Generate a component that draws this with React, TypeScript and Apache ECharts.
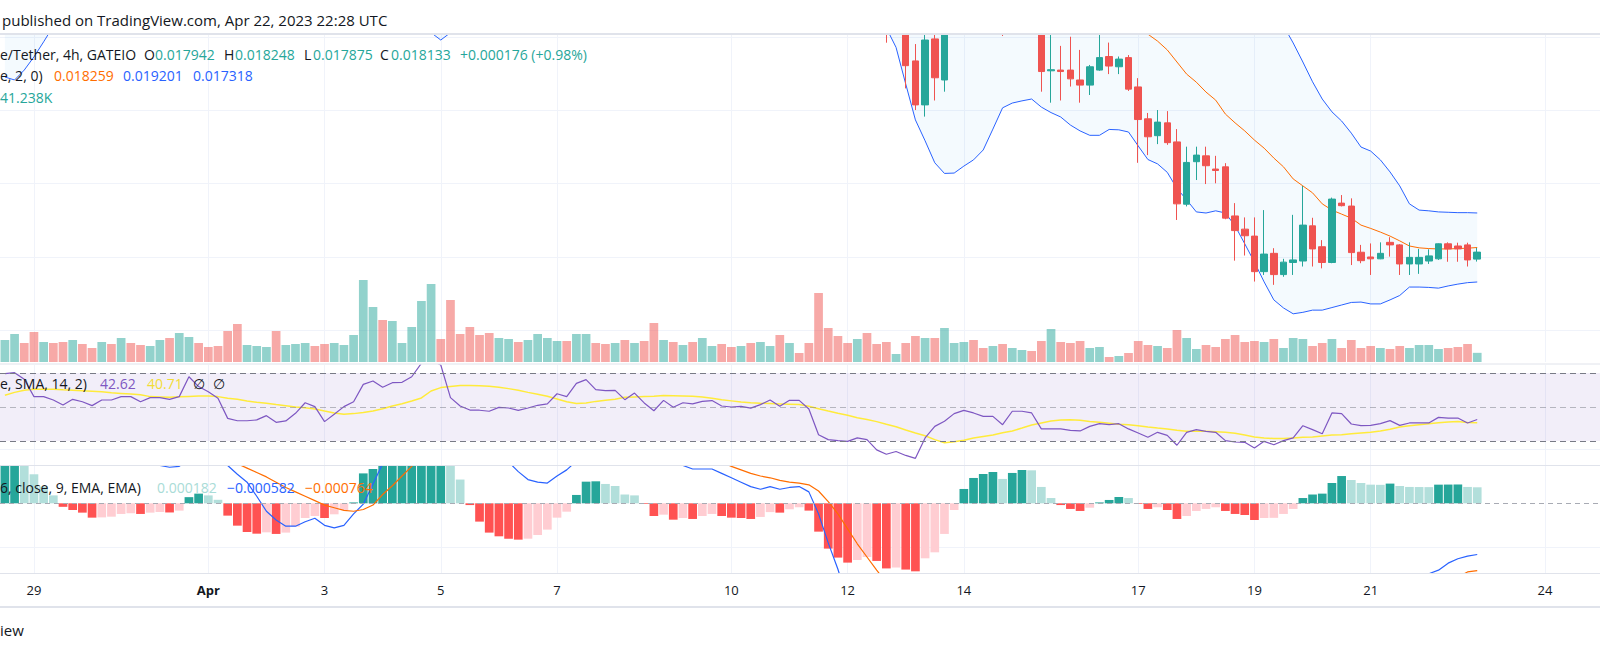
import React, { useEffect, useRef } from "react";
import * as echarts from "echarts";

// ---- time axis (hours from Apr 1 00:00 UTC), 4h bars ----
const FIRST_BAR_HOUR = -84;
const BAR_HOURS = 4;
const X_MIN = -86.02;
const X_MAX = 574.7;

const tickHours = [-72, 0, 48, 96, 144, 216, 264, 312, 384, 432, 480, 552];
const tickLabels = ["29", "Apr", "3", "5", "7", "10", "12", "14", "17", "19", "21", "24"];
const priceGridValues = [0.016, 0.018, 0.02, 0.022, 0.024];
const rsiGridValues = [25];
const macdGridValues = [-0.0005];

// ---- candles: [barIndex, open, high, low, close] (bars above the visible price range omitted) ----
const ohlc: number[][] = [
  [91, 0.0252, 0.0254, 0.023847, 0.0244],
  [93, 0.0246, 0.025, 0.0226, 0.02322],
  [94, 0.02335, 0.02381, 0.02201, 0.02215],
  [95, 0.02215, 0.0242, 0.02183, 0.02392],
  [96, 0.02395, 0.0242, 0.02227, 0.02289],
  [97, 0.02283, 0.0247, 0.02251, 0.02435],
  [103, 0.0248, 0.0252, 0.02403, 0.0245],
  [107, 0.0245, 0.025, 0.02251, 0.02306],
  [108, 0.02308, 0.0243, 0.02221, 0.02311],
  [109, 0.0231, 0.02376, 0.02227, 0.02306],
  [110, 0.0231, 0.02401, 0.02265, 0.02286],
  [111, 0.02283, 0.02365, 0.02221, 0.02269],
  [112, 0.02269, 0.02324, 0.02242, 0.02319],
  [113, 0.0231, 0.02415, 0.02308, 0.02344],
  [114, 0.02347, 0.02385, 0.02299, 0.02321],
  [115, 0.02319, 0.02347, 0.02299, 0.0234],
  [116, 0.02344, 0.02351, 0.02253, 0.02258],
  [117, 0.02264, 0.02288, 0.02057, 0.02175],
  [118, 0.02177, 0.02193, 0.02078, 0.02128],
  [119, 0.02131, 0.02201, 0.02108, 0.02168],
  [120, 0.02166, 0.02198, 0.02106, 0.02112],
  [121, 0.02114, 0.02149, 0.01901, 0.01945],
  [122, 0.01944, 0.02101, 0.01938, 0.02058],
  [123, 0.0206, 0.02101, 0.0201, 0.02078],
  [124, 0.02076, 0.02101, 0.01999, 0.02049],
  [125, 0.0204, 0.02076, 0.02001, 0.02036],
  [126, 0.02046, 0.02056, 0.01903, 0.01906],
  [127, 0.01912, 0.01947, 0.0179, 0.01872],
  [128, 0.01876, 0.01908, 0.01804, 0.01858],
  [129, 0.01857, 0.01908, 0.01733, 0.0176],
  [130, 0.0176, 0.01928, 0.01751, 0.01808],
  [131, 0.0181, 0.01824, 0.01724, 0.01752],
  [132, 0.01752, 0.01795, 0.01746, 0.01786],
  [133, 0.01785, 0.01915, 0.01751, 0.01792],
  [134, 0.01789, 0.01994, 0.01774, 0.01887],
  [135, 0.01885, 0.01907, 0.01774, 0.01822],
  [136, 0.01828, 0.01846, 0.01769, 0.01785],
  [137, 0.01785, 0.01962, 0.01783, 0.01958],
  [138, 0.01947, 0.01969, 0.01938, 0.0194],
  [139, 0.01939, 0.0196, 0.01778, 0.01812],
  [140, 0.01813, 0.01833, 0.01783, 0.0179],
  [141, 0.018, 0.01837, 0.01751, 0.01795],
  [142, 0.01795, 0.0184, 0.01794, 0.0181],
  [143, 0.0184, 0.01854, 0.01801, 0.01833],
  [144, 0.01833, 0.01835, 0.01751, 0.01781],
  [145, 0.01781, 0.0184, 0.01751, 0.01799],
  [146, 0.01781, 0.01822, 0.01754, 0.01799],
  [147, 0.01789, 0.01821, 0.01781, 0.01803],
  [148, 0.01795, 0.01837, 0.01792, 0.01836],
  [149, 0.01836, 0.0184, 0.01787, 0.01822],
  [150, 0.0183, 0.01839, 0.01787, 0.01822],
  [151, 0.01833, 0.01839, 0.01774, 0.01792],
  [152, 0.017942, 0.018248, 0.017875, 0.018133],
];

// ---- Bollinger Bands, in segments starting at a bar index ----
const bbSegA = 0;
const bbUpperA = [0.0275, 0.0276, 0.0277, 0.0278, 0.0279, 0.028, 0.0281];
const bbLowerA = [0.02291, 0.02283, 0.0231, 0.02346, 0.02387, 0.0243, 0.0246];
const bbSegB = 43;
const bbUpperB = [0.0282, 0.0284, 0.0286, 0.0288, 0.029];
const bbLowerB = [0.0243, 0.02412, 0.02392, 0.02412, 0.0244];
const bbSegC = 90;
const bbUpperC = [
  0.0282, 0.0283, 0.0284, 0.0285, 0.0286, 0.0287, 0.0288, 0.0288, 0.0289, 0.0289,
  0.0289, 0.0288, 0.0287, 0.0285, 0.0284, 0.0283, 0.0282, 0.0281, 0.028, 0.028,
  0.0279, 0.0279, 0.0278, 0.0278, 0.0278, 0.0278, 0.02779, 0.02757, 0.0275, 0.02724,
  0.02699, 0.02677, 0.02642, 0.02631, 0.0258, 0.0253, 0.0246, 0.02447, 0.02452, 0.02452,
  0.02462, 0.02457, 0.02431, 0.02384, 0.02332, 0.02278, 0.02231, 0.02196, 0.02171, 0.02138,
  0.021, 0.02089, 0.02065, 0.02032, 0.01994, 0.01945, 0.01928, 0.01926, 0.01923, 0.01922,
  0.01921, 0.01921, 0.019201,
];
const bbLowerC = [
  0.0248, 0.02425, 0.02372, 0.02272, 0.02174, 0.02117, 0.02057, 0.02028, 0.02029, 0.02048,
  0.02065, 0.02092, 0.02149, 0.02207, 0.0222, 0.02226, 0.02231, 0.02209, 0.02194, 0.02182,
  0.0216, 0.02144, 0.02132, 0.02132, 0.02148, 0.02147, 0.02141, 0.02103, 0.02066, 0.02054,
  0.02031, 0.01987, 0.01956, 0.01923, 0.0192, 0.01926, 0.0192, 0.01885, 0.01836, 0.01786,
  0.01732, 0.01683, 0.01661, 0.01645, 0.01649, 0.01655, 0.01655, 0.01662, 0.01669, 0.01676,
  0.01677, 0.01672, 0.01672, 0.01683, 0.01695, 0.01718, 0.01718, 0.01717, 0.01715, 0.01721,
  0.01726, 0.0173, 0.017318,
];
const bbBasisStart = 116;
const bbBasis = [
  0.0246, 0.0243, 0.02408, 0.02389, 0.02365, 0.02332, 0.02299, 0.02277, 0.0225, 0.02228,
  0.0219, 0.02166, 0.02144, 0.02119, 0.02097, 0.0207, 0.02046, 0.02013, 0.01994, 0.01975,
  0.01945, 0.01928, 0.01917, 0.01906, 0.01887, 0.01878, 0.01868, 0.01857, 0.01844, 0.0183,
  0.01825, 0.01823, 0.01822, 0.01822, 0.01823, 0.01824, 0.018259,
];

// ---- volume (K) and direction (1 = up bar) ----
const volumeK = [
  99, 126, 85.5, 135, 90, 85.5, 90, 99, 81, 63,
  90, 81, 108, 85.5, 76.5, 72, 99, 108, 130.5, 112.5,
  85.5, 67.5, 72, 139.5, 171, 76.5, 72, 67.5, 139.5, 76.5,
  81, 85.5, 72, 81, 85.5, 76.5, 121.5, 369, 247.5, 189,
  184.5, 85.5, 157.5, 274.5, 351, 103.5, 279, 126, 157.5, 121.5,
  130.5, 108, 103.5, 90, 99, 126, 108, 94.5, 94.5, 126,
  126, 85.5, 81, 85.5, 99, 85.5, 94.5, 175.5, 99, 90,
  76.5, 90, 108, 72, 81, 67.5, 72, 85.5, 90, 72,
  121.5, 85.5, 40.5, 85.5, 310.5, 153, 117, 85.5, 103.5, 130.5,
  81, 90, 36, 85.5, 117, 108, 108, 153, 85.5, 90,
  99, 63, 72, 81, 63, 54, 49.5, 94.5, 148.5, 90,
  85.5, 94.5, 63, 67.5, 22.5, 27, 40.5, 94.5, 76.5, 72,
  63, 144, 108, 58.5, 76.5, 67.5, 103.5, 121.5, 90, 94.5,
  90, 103.5, 63, 108, 103.5, 72, 85.5, 103.5, 63, 99,
  63, 72, 63, 58.5, 72, 63, 76.5, 76.5, 58.5, 63,
  67.5, 81, 41.238,
];
const volumeUp = [
  1, 1, 0, 0, 1, 0, 0, 1, 0, 0,
  1, 0, 1, 0, 0, 1, 1, 0, 1, 1,
  0, 0, 0, 0, 0, 1, 1, 1, 0, 1,
  1, 1, 0, 0, 1, 1, 1, 1, 1, 0,
  1, 1, 1, 1, 1, 0, 0, 0, 0, 0,
  0, 1, 1, 0, 1, 1, 1, 1, 0, 1,
  1, 0, 0, 1, 0, 1, 0, 0, 1, 0,
  1, 0, 1, 1, 0, 0, 1, 0, 1, 1,
  0, 1, 0, 0, 0, 0, 0, 0, 1, 0,
  0, 0, 1, 0, 0, 1, 0, 1, 1, 1,
  0, 0, 1, 0, 1, 1, 0, 0, 1, 0,
  0, 0, 1, 1, 0, 1, 0, 0, 0, 1,
  0, 0, 1, 1, 0, 0, 0, 0, 0, 0,
  1, 0, 1, 1, 1, 0, 0, 1, 0, 0,
  0, 0, 1, 0, 0, 1, 1, 1, 1, 0,
  0, 0, 1,
];

// ---- RSI (14) and its SMA ----
const rsi = [
  69.6, 70.2, 66.3, 56.1, 56.1, 54.1, 51.2, 54.5, 53.1, 50.8,
  54.1, 54.1, 56.1, 56.1, 53.1, 55.5, 55.5, 54.5, 56.1, 67.8,
  62.0, 59.0, 55.1, 43.3, 41.9, 41.9, 42.4, 44.9, 41.0, 41.8,
  46.3, 52.5, 50.2, 41.4, 45.7, 50.2, 53.1, 63.3, 65.3, 61.6,
  64.3, 64.5, 67.8, 75.7, 77.6, 74.7, 55.5, 50.6, 48.2, 48.1,
  47.5, 49.8, 49.4, 48.0, 49.4, 51.0, 51.8, 57.8, 56.1, 63.9,
  66.1, 60.2, 59.6, 59.8, 54.3, 58.2, 52.4, 47.8, 53.9, 49.8,
  52.5, 51.8, 53.3, 53.8, 50.6, 50.0, 50.4, 49.3, 51.4, 54.1,
  50.4, 53.9, 53.9, 48.8, 33.7, 30.8, 30.2, 29.8, 31.8, 30.8,
  24.8, 22.2, 23.8, 21.5, 19.8, 31.8, 38.6, 41.6, 46.1, 48.0,
  46.5, 44.5, 44.5, 39.6, 47.5, 47.5, 46.5, 37.1, 37.1, 37.1,
  36.3, 35.9, 38.6, 40.2, 39.6, 40.2, 37.1, 34.7, 32.2, 35.1,
  33.3, 27.5, 35.1, 36.7, 35.7, 35.1, 30.2, 29.4, 29.2, 25.9,
  29.8, 27.8, 30.2, 31.8, 39.0, 36.7, 34.3, 46.5, 46.1, 40.0,
  39.0, 39.2, 40.2, 42.0, 39.2, 40.6, 40.6, 40.6, 43.9, 43.5,
  43.5, 40.6, 42.62,
];
const rsiSma = [
  56.9, 58.6, 59.8, 60.4, 60.4, 60.4, 60.1, 59.9, 59.6, 59.3,
  59.0, 58.4, 58.0, 57.6, 57.2, 56.1, 55.9, 55.7, 56.0, 56.2,
  56.4, 56.5, 56.1, 55.1, 54.5, 53.5, 52.8, 52.2, 51.4, 50.8,
  50.0, 49.6, 48.8, 47.6, 46.5, 45.7, 46.1, 46.7, 47.6, 49.0,
  50.6, 51.9, 53.5, 55.3, 59.4, 61.4, 62.0, 62.6, 62.6, 62.5,
  62.2, 61.6, 60.8, 59.8, 58.6, 57.5, 56.3, 54.7, 53.1, 52.0,
  52.4, 53.3, 53.9, 54.5, 55.7, 55.9, 56.1, 56.3, 56.7, 56.6,
  56.5, 56.3, 55.9, 55.1, 54.3, 53.6, 52.9, 52.5, 52.2, 52.0,
  51.8, 51.6, 51.4, 50.4, 49.0, 47.6, 46.3, 45.1, 43.7, 42.7,
  41.4, 39.8, 38.4, 36.5, 34.7, 33.1, 30.8, 29.0, 29.6, 30.4,
  31.8, 32.7, 33.5, 34.9, 35.9, 37.6, 39.4, 40.6, 41.8, 42.4,
  42.5, 42.2, 41.4, 41.0, 40.4, 39.8, 39.6, 39.0, 38.2, 37.6,
  37.1, 36.3, 35.7, 35.7, 35.7, 35.5, 35.1, 34.5, 33.5, 32.4,
  31.8, 31.4, 31.4, 31.8, 32.2, 32.4, 33.0, 33.5, 33.7, 34.3,
  34.7, 35.1, 35.9, 36.9, 38.2, 39.0, 39.6, 40.2, 40.8, 41.2,
  41.5, 40.9, 40.71,
];

// ---- MACD (12, 26, close, 9) ----
const macdHist = [
  0.00048, 0.0005, 0.00045, 0.00033, 0.00019, 0.00009, -0.00004, -0.000076, -0.000106, -0.000163,
  -0.00016, -0.000152, -0.000121, -0.000114, -0.000121, -0.000106, -0.000099, -0.000104, -0.000083, 0.00007,
  0.00011, 0.00009, 0.00004, -0.00014, -0.000254, -0.000326, -0.000345, -0.00033, -0.000348, -0.000333,
  -0.000265, -0.000167, -0.000144, -0.000167, -0.000125, -0.000076, 0.00001, 0.00034, 0.00039, 0.00046,
  0.00052, 0.00058, 0.00062, 0.00066, 0.00069, 0.00071, 0.00055, 0.00027, -0.00002, -0.000208,
  -0.000333, -0.000375, -0.000402, -0.000413, -0.000402, -0.00036, -0.000299, -0.000163, -0.000095, 0.000095,
  0.000246, 0.00025, 0.00022, 0.000197, 0.0001, 0.00009, -0.000008, -0.000144, -0.000129, -0.000186,
  -0.000167, -0.000178, -0.000144, -0.000121, -0.000144, -0.000163, -0.000167, -0.000178, -0.000155, -0.0001,
  -0.000106, -0.000068, -0.000045, -0.000083, -0.000322, -0.000515, -0.000617, -0.000674, -0.000644, -0.00061,
  -0.000655, -0.00074, -0.00073, -0.000753, -0.000773, -0.000625, -0.000557, -0.000348, -0.000076, 0.000163,
  0.000288, 0.000333, 0.000356, 0.000277, 0.000345, 0.000379, 0.000375, 0.000186, 0.00006, -0.00002,
  -0.000064, -0.000087, -0.00005, 0.00001, 0.000038, 0.000072, 0.00006, -0.000008, -0.000064, -0.000045,
  -0.000076, -0.000178, -0.000144, -0.000087, -0.000064, -0.000045, -0.000087, -0.000121, -0.000133, -0.00019,
  -0.000167, -0.000165, -0.000121, -0.000064, 0.00006, 0.0001, 0.00011, 0.000231, 0.00031, 0.000265,
  0.000231, 0.000212, 0.00021, 0.000224, 0.000197, 0.000186, 0.000185, 0.000184, 0.000212, 0.000213,
  0.000214, 0.000186, 0.000182,
];
const macdLine = [
  0.0011, 0.00105, 0.001, 0.00092, 0.00084, 0.00076, 0.00068, 0.0006, 0.00054, 0.00052,
  0.0005, 0.00048, 0.00048, 0.00047, 0.00046, 0.00045, 0.00043, 0.00041, 0.00042, 0.0005,
  0.00056, 0.00057, 0.00053, 0.00043, 0.00033, 0.00024, 0.00008, -0.00009, -0.00019, -0.00026,
  -0.00026, -0.00021, -0.00017, -0.00025, -0.00028, -0.00025, -0.00012, -0.00001, 0.00022, 0.00045,
  0.00068, 0.0009, 0.0011, 0.0013, 0.00145, 0.00155, 0.0015, 0.0013, 0.0011, 0.00085,
  0.00068, 0.00056, 0.00047, 0.00036, 0.00027, 0.00024, 0.00023, 0.00031, 0.00038, 0.00048,
  0.00058, 0.00066, 0.0007, 0.00071, 0.00068, 0.00066, 0.00062, 0.00056, 0.00054, 0.0005,
  0.00043, 0.00039, 0.00039, 0.00039, 0.00034, 0.00029, 0.00024, 0.00019, 0.00016, 0.00019,
  0.00016, 0.00018, 0.00019, 0.00013, -0.00012, -0.00045, -0.00075, -0.0011, -0.0014, -0.0017,
  -0.002, -0.0023, -0.0025, -0.0027, -0.0029, -0.0029, -0.0029, -0.0028, -0.0026, -0.0024,
  -0.0022, -0.002, -0.0018, -0.0017, -0.0015, -0.0013, -0.0012, -0.0012, -0.0012, -0.0012,
  -0.0012, -0.0012, -0.0011, -0.001, -0.00095, -0.0009, -0.0009, -0.00095, -0.001, -0.001,
  -0.00105, -0.0012, -0.0012, -0.0012, -0.0012, -0.0012, -0.0013, -0.0014, -0.0015, -0.0016,
  -0.0016, -0.0017, -0.0016, -0.0016, -0.0015, -0.0014, -0.0013, -0.0012, -0.0011, -0.00105,
  -0.001, -0.00098, -0.00095, -0.0009, -0.00088, -0.00085, -0.00083, -0.0008, -0.00076, -0.00068,
  -0.00063, -0.0006, -0.000582,
];
const macdSignal = [
  0.0008, 0.0008, 0.0008, 0.0008, 0.00078, 0.00075, 0.0007, 0.00066, 0.00063, 0.00061,
  0.00059, 0.00058, 0.00057, 0.00056, 0.00055, 0.00054, 0.00053, 0.00052, 0.0005, 0.00049,
  0.00049, 0.0005, 0.0005, 0.00048, 0.00045, 0.0004, 0.00035, 0.0003, 0.00024, 0.00018,
  0.00013, 0.00008, 0.00003, -0.00002, -0.00005, -0.00008, -0.00009, -0.00007, -0.00002, 0.0001,
  0.0002, 0.00031, 0.00042, 0.00052, 0.0006, 0.00068, 0.00076, 0.00082, 0.00086, 0.00087,
  0.00086, 0.00084, 0.00081, 0.00077, 0.00072, 0.00068, 0.00064, 0.0006, 0.00057, 0.00055,
  0.00053, 0.00052, 0.00052, 0.00052, 0.00053, 0.00054, 0.00056, 0.00058, 0.00058, 0.00059,
  0.00059, 0.00057, 0.00054, 0.00051, 0.00047, 0.00042, 0.00038, 0.00034, 0.00031, 0.00029,
  0.00026, 0.00024, 0.00023, 0.00021, 0.00014, 0.00002, -0.00012, -0.00029, -0.00046, -0.00061,
  -0.00076, -0.0009, -0.00105, -0.0012, -0.0014, -0.0016, -0.0018, -0.0019, -0.002, -0.002,
  -0.002, -0.0019, -0.0018, -0.0017, -0.0016, -0.0015, -0.0014, -0.0013, -0.0012, -0.0012,
  -0.0012, -0.0012, -0.0012, -0.00115, -0.0011, -0.0011, -0.00105, -0.001, -0.001, -0.001,
  -0.001, -0.001, -0.00105, -0.0011, -0.0011, -0.00115, -0.0012, -0.0013, -0.0014, -0.0014,
  -0.0015, -0.0015, -0.0015, -0.0016, -0.0016, -0.0015, -0.0014, -0.0014, -0.0014, -0.0013,
  -0.0012, -0.0012, -0.0012, -0.0011, -0.0011, -0.00105, -0.001, -0.00099, -0.00097, -0.00089,
  -0.00084, -0.00078, -0.000764,
];

const FONT = "'Open Sans', 'Noto Sans', 'DejaVu Sans', sans-serif";
const TEXT = "#131722";
const UP = "#26a69a";
const DOWN = "#ef5350";
const BLUE = "#2962ff";
const ORANGE = "#ff6d00";
const GRID = "#f0f3fa";
const BORDER = "#e0e3eb";

function hourOf(i: number) {
  return FIRST_BAR_HOUR + BAR_HOURS * i;
}

export default function App() {
  const ref = useRef<HTMLDivElement>(null);

  useEffect(() => {
    document.body.style.margin = "0";
    const chart = echarts.init(ref.current as HTMLDivElement, undefined, { renderer: "svg" });

    const candleData = ohlc.map((d) => [hourOf(d[0]), d[1], d[4], d[3], d[2]]);

    const segs = [
      { start: bbSegA, up: bbUpperA, lo: bbLowerA },
      { start: bbSegB, up: bbUpperB, lo: bbLowerB },
      { start: bbSegC, up: bbUpperC, lo: bbLowerC },
    ];
    const upperData: number[][] = [];
    const lowerData: number[][] = [];
    segs.forEach((s) => {
      s.lo.forEach((v, k) => lowerData.push([hourOf(s.start + k), v]));
      s.up.forEach((v, k) => upperData.push([hourOf(s.start + k), v]));
    });
    const basisData = bbBasis.map((v, k) => [hourOf(bbBasisStart + k), v]);

    const volData = volumeK.map((v, i) => ({
      value: [hourOf(i), v],
      itemStyle: { color: volumeUp[i] ? "rgba(38,166,154,0.5)" : "rgba(239,83,80,0.5)" },
    }));

    const histData = macdHist.map((v, i) => {
      const prev = i > 0 ? macdHist[i - 1] : v;
      let color;
      if (v >= 0) color = v >= prev ? "#26a69a" : "#b2dfdb";
      else color = v <= prev ? "#ff5252" : "#ffcdd2";
      return { value: [hourOf(i), v], itemStyle: { color } };
    });

    const pts = (arr: number[]) => arr.map((v, i) => [hourOf(i), v]);

    const mkX = (gridIndex: number, labels: boolean, split: boolean) => ({
      type: "value",
      gridIndex,
      min: X_MIN,
      max: X_MAX,
      axisLine: { show: false },
      axisTick: { show: false, customValues: tickHours },
      axisLabel: labels
        ? {
            show: true,
            customValues: tickHours,
            margin: 10,
            fontSize: 13,
            color: TEXT,
            fontFamily: FONT,
            formatter: (v: number) => {
              const k = tickHours.indexOf(Math.round(v));
              const s = k >= 0 ? tickLabels[k] : "";
              return s === "Apr" ? "{b|Apr}" : s;
            },
            rich: { b: { fontWeight: "bold", fontSize: 13, color: TEXT, fontFamily: FONT } },
          }
        : { show: false, customValues: tickHours },
      splitLine: { show: split, lineStyle: { color: GRID, width: 1 } },
    });

    const mkY = (gridIndex: number, min: number, max: number, gridVals: number[] | null) => ({
      type: "value",
      gridIndex,
      min,
      max,
      axisLine: { show: false },
      axisLabel: { show: false },
      axisTick: gridVals ? { show: false, customValues: gridVals } : { show: false },
      splitLine: { show: !!gridVals, lineStyle: { color: GRID, width: 1 } },
    });

    const txt = (x: number, y: number, text: string, fill: string, size = 14, weight = "normal") => ({
      type: "text",
      x,
      y,
      z: 100,
      silent: true,
      style: { text, fill, fontSize: size, fontFamily: FONT, fontWeight: weight, verticalAlign: "middle", align: "left" },
    });
    const hline = (y: number, w: number) => ({
      type: "line",
      z: 99,
      silent: true,
      shape: { x1: 0, y1: y, x2: 1600, y2: y },
      style: { stroke: BORDER, lineWidth: w },
    });

    const option: any = {
      animation: false,
      backgroundColor: "#ffffff",
      textStyle: { fontFamily: FONT },
      grid: [
        { left: 0, right: 0, top: 35, height: 327, outerBoundsMode: "none" },
        { left: 0, right: 0, top: 262, height: 100, outerBoundsMode: "none" },
        { left: 0, right: 0, top: 365, height: 100, outerBoundsMode: "none" },
        { left: 0, right: 0, top: 466, height: 107, outerBoundsMode: "none" },
      ],
      xAxis: [mkX(0, false, true), mkX(1, false, false), mkX(2, false, true), mkX(3, true, true)],
      yAxis: [
        mkY(0, 0.015135, 0.024057, priceGridValues),
        mkY(1, 0, 450, null),
        mkY(2, 15.88, 74.7, rsiGridValues),
        mkY(3, -0.000792, 0.000424, macdGridValues),
      ],
      series: [
        {
          name: "Volume",
          type: "bar",
          xAxisIndex: 1,
          yAxisIndex: 1,
          barWidth: 8.7,
          data: volData,
          z: 1,
        },
        {
          name: "BB fill",
          type: "custom",
          xAxisIndex: 0,
          yAxisIndex: 0,
          clip: true,
          silent: true,
          z: 1,
          data: segs.map((s) => [hourOf(s.start), s.lo[0]]),
          renderItem: (params: any, api: any) => {
            const s = segs[params.dataIndex];
            const top = s.up.map((v, k) => api.coord([hourOf(s.start + k), v]));
            const bot = s.lo.map((v, k) => api.coord([hourOf(s.start + k), v])).reverse();
            return {
              type: "polygon",
              shape: { points: top.concat(bot) },
              style: { fill: "rgba(33,150,243,0.05)", stroke: "none" },
            };
          },
        },
        {
          name: "BB upper",
          type: "line",
          xAxisIndex: 0,
          yAxisIndex: 0,
          data: upperData,
          showSymbol: false,
          symbol: "none",
          lineStyle: { color: BLUE, width: 1 },
          z: 2,
        },
        {
          name: "BB lower",
          type: "line",
          xAxisIndex: 0,
          yAxisIndex: 0,
          data: lowerData,
          showSymbol: false,
          symbol: "none",
          lineStyle: { color: BLUE, width: 1 },
          z: 2,
        },
        {
          name: "BB basis",
          type: "line",
          xAxisIndex: 0,
          yAxisIndex: 0,
          data: basisData,
          showSymbol: false,
          symbol: "none",
          lineStyle: { color: ORANGE, width: 1 },
          z: 3,
        },
        {
          name: "Price",
          type: "candlestick",
          xAxisIndex: 0,
          yAxisIndex: 0,
          barWidth: 7,
          clip: true,
          encode: { x: 0, y: [1, 2, 3, 4] },
          data: candleData,
          itemStyle: { color: UP, color0: DOWN, borderColor: UP, borderColor0: DOWN, borderWidth: 1 },
          z: 4,
        },
        {
          name: "RSI",
          type: "line",
          xAxisIndex: 2,
          yAxisIndex: 2,
          data: pts(rsi),
          showSymbol: false,
          symbol: "none",
          lineStyle: { color: "#7e57c2", width: 1.2 },
          z: 4,
          markArea: {
            silent: true,
            itemStyle: { color: "rgba(126,87,194,0.1)" },
            data: [[{ yAxis: 30 }, { yAxis: 70 }]],
          },
          markLine: {
            silent: true,
            symbol: ["none", "none"],
            label: { show: false },
            lineStyle: { color: "#787b86", width: 1, type: [6, 4] },
            data: [
              { yAxis: 70 },
              { yAxis: 50, lineStyle: { color: "rgba(120,123,134,0.5)", width: 1, type: [6, 4] } },
              { yAxis: 30 },
            ],
          },
        },
        {
          name: "RSI SMA",
          type: "line",
          xAxisIndex: 2,
          yAxisIndex: 2,
          data: pts(rsiSma),
          showSymbol: false,
          symbol: "none",
          lineStyle: { color: "#ffeb3b", width: 1.5 },
          z: 3,
        },
        {
          name: "Histogram",
          type: "bar",
          xAxisIndex: 3,
          yAxisIndex: 3,
          barWidth: 8.7,
          data: histData,
          z: 2,
          markLine: {
            silent: true,
            symbol: ["none", "none"],
            label: { show: false },
            lineStyle: { color: "#a8abb4", width: 1, type: [5, 4] },
            data: [{ yAxis: 0 }],
          },
        },
        {
          name: "MACD",
          type: "line",
          xAxisIndex: 3,
          yAxisIndex: 3,
          data: pts(macdLine),
          showSymbol: false,
          symbol: "none",
          lineStyle: { color: BLUE, width: 1.2 },
          z: 3,
        },
        {
          name: "Signal",
          type: "line",
          xAxisIndex: 3,
          yAxisIndex: 3,
          data: pts(macdSignal),
          showSymbol: false,
          symbol: "none",
          lineStyle: { color: ORANGE, width: 1.2 },
          z: 3,
        },
      ],
      graphic: [
        {
          type: "rect",
          z: 98,
          silent: true,
          shape: { x: 0, y: 0, width: 1600, height: 34 },
          style: { fill: "#ffffff" },
        },
        hline(34, 2),
        hline(364, 1),
        hline(465.5, 1),
        hline(573.5, 1),
        hline(607, 2),
        txt(2, 20, "published on TradingView.com, Apr 22, 2023 22:28 UTC", TEXT, 15),
        txt(0, 54, "e/Tether, 4h, GATEIO", TEXT),
        txt(144, 54, "O", TEXT),
        txt(155, 54, "0.017942", UP),
        txt(224, 54, "H", TEXT),
        txt(235, 54, "0.018248", UP),
        txt(304, 54, "L", TEXT),
        txt(313, 54, "0.017875", UP),
        txt(380, 54, "C", TEXT),
        txt(391, 54, "0.018133", UP),
        txt(460, 54, "+0.000176 (+0.98%)", UP),
        txt(0, 75, "e, 2, 0)", TEXT),
        txt(54, 75, "0.018259", ORANGE),
        txt(123, 75, "0.019201", BLUE),
        txt(193, 75, "0.017318", BLUE),
        txt(0, 97, "41.238K", UP),
        txt(0, 383, "e, SMA, 14, 2)", TEXT),
        txt(100, 383, "42.62", "#7e57c2"),
        txt(147, 383, "40.71", "#f2dd36"),
        txt(193, 383, "\u2205", TEXT),
        txt(213, 383, "\u2205", TEXT),
        txt(0, 487, "6, close, 9, EMA, EMA)", TEXT),
        txt(157, 487, "0.000182", "#a9dcd7"),
        txt(227, 487, "\u22120.000582", BLUE),
        txt(305, 487, "\u22120.000764", ORANGE),
        txt(0, 630, "iew", TEXT, 15),
      ],
    };

    chart.setOption(option);
    return () => chart.dispose();
  }, []);

  return <div ref={ref} style={{ width: 1600, height: 652 }} />;
}
